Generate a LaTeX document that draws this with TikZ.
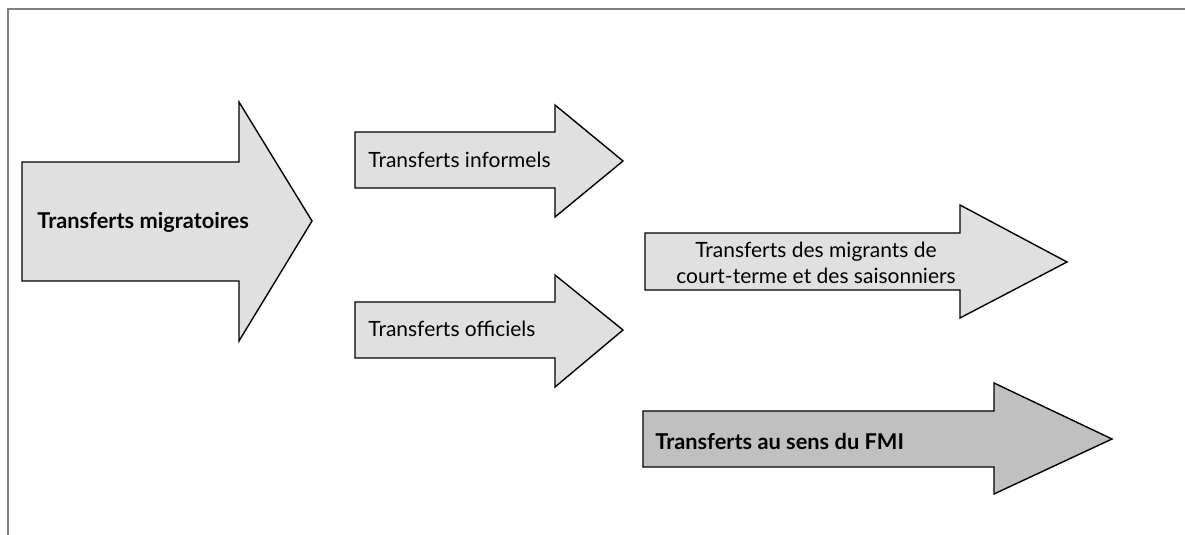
\documentclass[tikz,border=0pt]{standalone}
\usepackage{fontspec}
\setmainfont{Lato}
\usetikzlibrary{positioning}
\definecolor{flowlight}{HTML}{E0E0E0}
\definecolor{flowdark}{HTML}{C0C0C0}
\definecolor{framegrey}{HTML}{808080}
\tikzset{flowarrow/.style={draw=black,fill=flowlight,line width=0.7pt,line join=miter}}
\tikzset{flowarrowdark/.style={flowarrow,fill=flowdark}}
\tikzset{flowtext/.style={anchor=west,inner sep=0pt,font=\fontsize{10.5}{13}\selectfont}}
\tikzset{flowtextbold/.style={flowtext,font=\fontsize{10.9}{13}\selectfont\bfseries}}

\begin{document}
\begin{tikzpicture}[x=0.5pt,y=-0.5pt]
    \useasboundingbox (0,0) rectangle (1185,535);
    % frame, cut on the right and at the bottom
    \draw[framegrey,line width=0.8pt] (8,535) -- (8,9) -- (1185,9);

    \draw[flowarrow] (22,162) -- (239,162) -- (239,102) -- (312,221) -- (239,341) -- (239,281) -- (22,281) -- cycle;
    \node[flowtextbold] (migr) at (37,222) {Transferts migratoires};

    \draw[flowarrow] (355,132) -- (555,132) -- (555,105) -- (623,161) -- (555,217) -- (555,188) -- (355,188) -- cycle;
    \node[flowtext] (inform) at (368,160) {Transferts informels};

    \draw[flowarrow] (355,302) -- (555,302) -- (555,275) -- (623,330) -- (555,387) -- (555,358) -- (355,358) -- cycle;
    \node[flowtext] (offic) at (368,329) {Transferts officiels};

    \draw[flowarrow] (645,233) -- (960,233) -- (960,205) -- (1067,262) -- (960,318) -- (960,290) -- (645,290) -- cycle;
    \node[flowtext,anchor=center,align=center] (saison) at (816,263) {Transferts des migrants de\\court-terme et des saisonniers};

    \draw[flowarrowdark] (643,411) -- (994,411) -- (994,383) -- (1112,439) -- (994,494) -- (994,467) -- (643,467) -- cycle;
    \node[flowtextbold] (fmi) at (655,441) {Transferts au sens du FMI};
\end{tikzpicture}
\end{document}
